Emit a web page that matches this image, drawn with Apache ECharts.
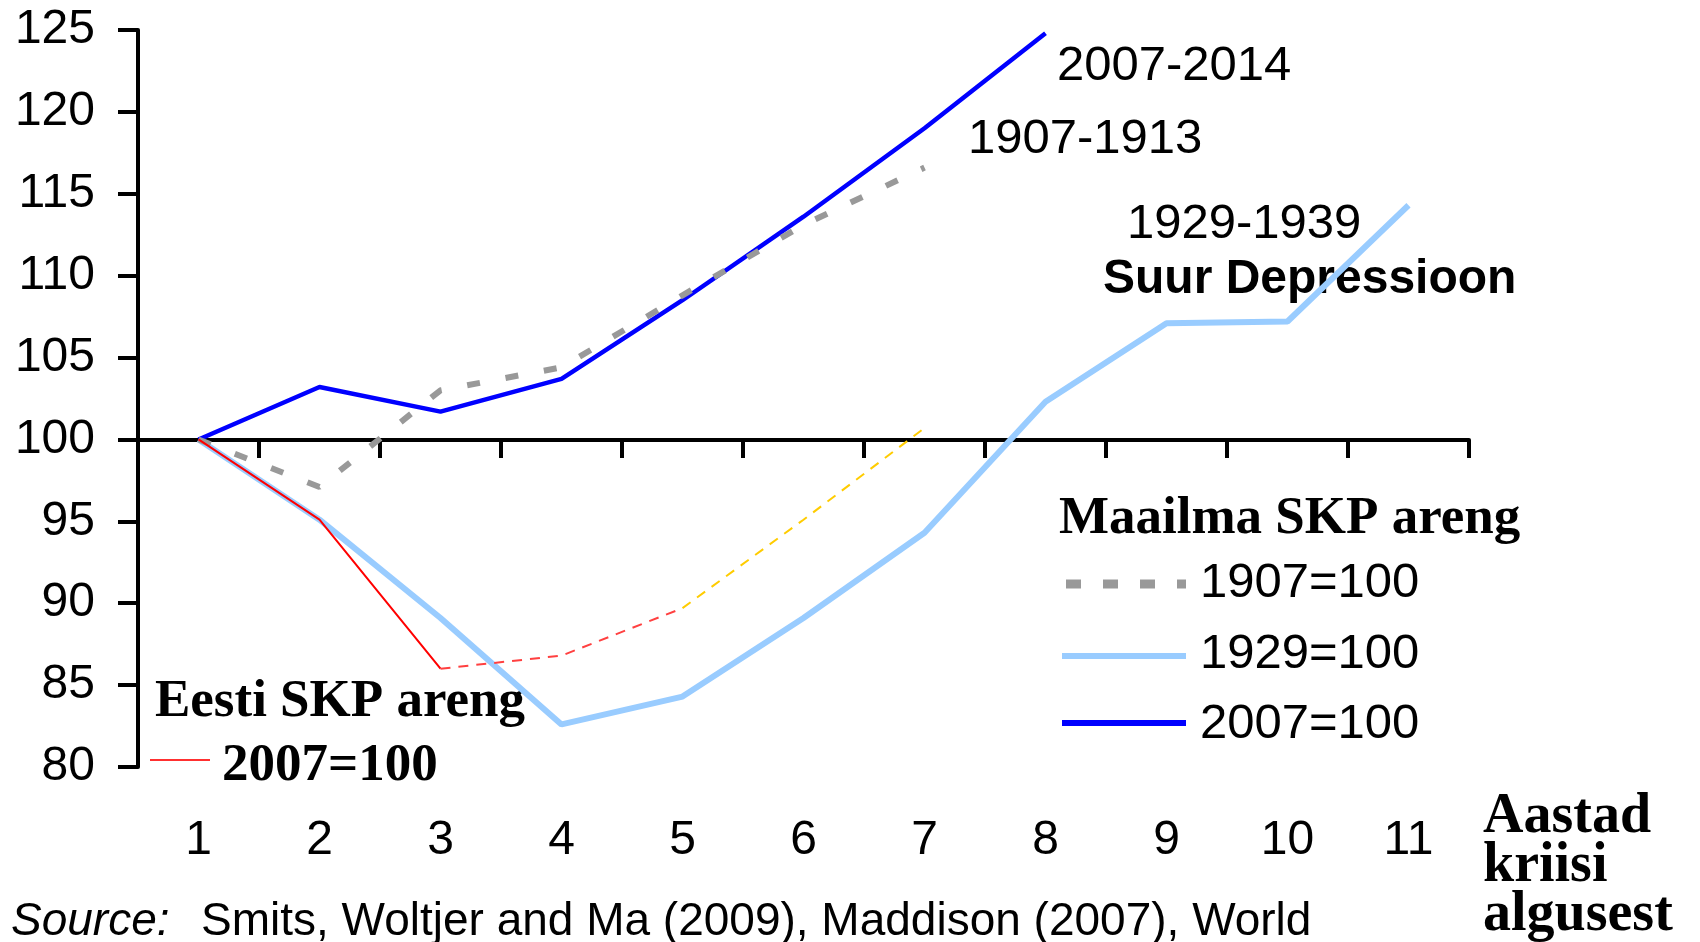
<!DOCTYPE html>
<html>
<head>
<meta charset="utf-8">
<script src="https://cdn.jsdelivr.net/npm/echarts@6/dist/echarts.min.js"></script>
<style>
    html, body { margin: 0; padding: 0; background: #fff; }
    #main { width: 1700px; height: 942px; }
</style>
</head>
<body>
<div id="main"></div>
<script>
// aastad kriisi algusest
var years = ['1', '2', '3', '4', '5', '6', '7', '8', '9', '10', '11'];

// Maailma SKP areng
var world1907 = [100, 97.1, 103.0, 104.4, 108.8, 113.1, 116.6];
var world1929 = [100, 95.1, 89.1, 82.6, 84.3, 89.1, 94.3, 102.3, 107.1, 107.2, 114.3];
var world2007 = [100, 103.2, 101.7, 103.7, 108.5, 113.6, 119.0, 124.8];

// Eesti SKP areng (2007=100), tegelik + prognoos
var estonia = [100, 95.1, 86.0];
var estoniaForecastA = [null, null, 86.0, 86.8, 89.7];
var estoniaForecastB = [null, null, null, null, 89.7, 95.1, 100.7];

// y telg
var yMin = 80;
var yMax = 125;
var yStep = 5;

var SANS = '"Liberation Sans", Arial, sans-serif';
var SERIF = '"Liberation Serif", "Times New Roman", serif';

function txt(text, x, y, font) {
    return {
        type: 'text',
        x: x,
        y: y + 4,
        silent: true,
        style: {
            text: text,
            font: font,
            fill: '#000',
            align: 'left',
            verticalAlign: 'middle',
            textAlign: 'left',
            textVerticalAlign: 'middle'
        }
    };
}

function seg(x1, x2, y, color, width, dash) {
    return {
        type: 'line',
        silent: true,
        shape: { x1: x1, y1: y, x2: x2, y2: y },
        style: { stroke: color, lineWidth: width, lineDash: dash || null }
    };
}

var myChart = echarts.init(document.getElementById('main'));

var option = {
    animation: false,
    backgroundColor: '#fff',
    grid: { left: 138, right: 231, top: 30, bottom: 175 },
    xAxis: [
        {
            // ainult sildid
            type: 'category',
            data: years,
            axisLine: { show: false, onZero: false },
            axisTick: { show: false },
            splitLine: { show: false },
            axisLabel: { fontSize: 48, color: '#000', fontFamily: SANS, margin: 50 }
        },
        {
            // telje joon y=100 kohal
            type: 'category',
            data: years,
            position: 'bottom',
            offset: -327,
            axisLine: { show: true, onZero: false, lineStyle: { color: '#000', width: 4 } },
            axisTick: { show: true, length: 18, lineStyle: { color: '#000', width: 4 } },
            axisLabel: { show: false },
            splitLine: { show: false }
        }
    ],
    yAxis: {
        type: 'value',
        min: yMin,
        max: yMax,
        interval: yStep,
        axisLine: { show: true, lineStyle: { color: '#000', width: 4 } },
        axisTick: { show: true, length: 20, lineStyle: { color: '#000', width: 4 } },
        axisLabel: { fontSize: 48, color: '#000', fontFamily: SANS, margin: 43, padding: [6, 0, 0, 0] },
        splitLine: { show: false }
    },
    series: [
        {
            name: '1929=100', type: 'line', data: world1929, symbol: 'none',
            lineStyle: { color: '#99CCFF', width: 6 }, z: 2
        },
        {
            name: '2007=100', type: 'line', data: world2007, symbol: 'none',
            lineStyle: { color: '#0000FF', width: 4.5 }, z: 3
        },
        {
            name: '1907=100', type: 'line', data: world1907, symbol: 'none',
            lineStyle: { color: '#999999', width: 6, type: [13, 26], cap: 'butt' }, z: 4
        },
        {
            name: 'Eesti', type: 'line', data: estonia, symbol: 'none',
            lineStyle: { color: '#FF0000', width: 2 }, z: 5
        },
        {
            name: 'Eesti prognoos', type: 'line', data: estoniaForecastA, symbol: 'none',
            lineStyle: { color: '#FF4040', width: 2, type: [10, 8] }, z: 5
        },
        {
            name: 'Eesti prognoos 2', type: 'line', data: estoniaForecastB, symbol: 'none',
            lineStyle: { color: '#FFCC00', width: 2, type: [10, 8] }, z: 5
        }
    ],
    graphic: [
        txt('2007-2014', 1057, 62, '49px ' + SANS),
        txt('1907-1913', 968, 135, '49px ' + SANS),
        txt('1929-1939', 1127, 220, '49px ' + SANS),
        txt('Suur Depressioon', 1103, 276, 'bold 48px ' + SANS),

        txt('Maailma SKP areng', 1059, 515, 'bold 53px ' + SERIF),
        seg(1066, 1186, 584, '#999999', 9, [15, 22]),
        txt('1907=100', 1200, 579, '49px ' + SANS),
        seg(1062, 1186, 656, '#99CCFF', 6),
        txt('1929=100', 1200, 650, '49px ' + SANS),
        seg(1062, 1186, 723, '#0000FF', 6),
        txt('2007=100', 1200, 720, '49px ' + SANS),

        txt('Eesti SKP areng', 155, 698, 'bold 53px ' + SERIF),
        seg(150, 210, 760, '#FF3030', 2),
        txt('2007=100', 222, 762, 'bold 53px ' + SERIF),

        txt('Aastad', 1483, 814, 'bold 56px ' + SERIF),
        txt('kriisi', 1483, 863, 'bold 56px ' + SERIF),
        txt('algusest', 1483, 912, 'bold 56px ' + SERIF),

        txt('Source:', 11, 918, 'italic 46px ' + SANS),
        txt('Smits, Woltjer and Ma (2009), Maddison (2007), World', 201, 918, '46px ' + SANS)
    ]
};

myChart.setOption(option);
</script>
</body>
</html>
